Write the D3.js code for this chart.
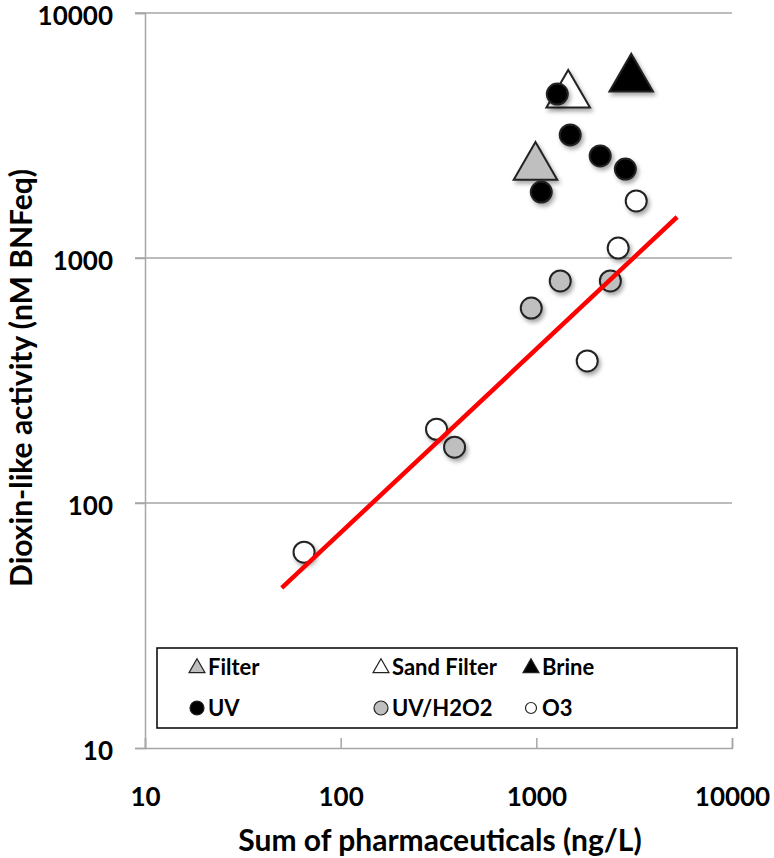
<!DOCTYPE html>
<html>
<head>
<meta charset="utf-8">
<script src="https://cdn.jsdelivr.net/npm/d3@7"></script>
<style>
  body { margin: 0; background: #fff; }
  text { font-family: Lato, "Open Sans", sans-serif; font-weight: bold; fill: #000; }
</style>
</head>
<body>
<svg width="774" height="858"></svg>
<script>
// values (log-log)
var filterX = [990], filterY = [2350];
var sandX = [1455], sandY = [4625];
var brineX = [3055], brineY = [5380];
var uvX = [1280, 1490, 2120, 2850, 1060];
var uvY = [4670, 3180, 2610, 2307, 1858];
var uvh2o2X = [2390, 1325, 942, 382];
var uvh2o2Y = [806, 806, 625, 169];
var o3X = [3240, 2620, 1820, 309, 65];
var o3Y = [1709, 1098, 380, 200, 63];
var trendX = [50, 5240];
var trendY = [45, 1470];
var tickValues = [10, 100, 1000, 10000];

var svg = d3.select("svg");

var x = d3.scaleLog().domain([10, 10000]).range([145, 732]);
var y = d3.scaleLog().domain([10, 10000]).range([748, 13]);

var defs = svg.append("defs");
var shadow = defs.append("filter").attr("id", "shadow")
    .attr("x", "-50%").attr("y", "-50%").attr("width", "200%").attr("height", "200%");
shadow.append("feDropShadow")
    .attr("dx", 2).attr("dy", 3).attr("stdDeviation", 2)
    .attr("flood-color", "#000").attr("flood-opacity", 0.35);

// gridlines
svg.append("g").selectAll("line")
    .data(tickValues.slice(1))
    .enter().append("line")
    .attr("x1", 135).attr("x2", x(10000))
    .attr("y1", function (d) { return y(d); })
    .attr("y2", function (d) { return y(d); })
    .attr("stroke", "#a6a6a6").attr("stroke-width", 1.5);

// y axis
var yAxis = svg.append("g")
    .attr("transform", "translate(" + x(10) + ",0)")
    .call(d3.axisLeft(y).tickValues(tickValues).tickFormat(d3.format("d")).tickSize(10).tickPadding(22));
yAxis.select(".domain").attr("stroke", "#a6a6a6").attr("stroke-width", 1.5);
yAxis.selectAll(".tick line").attr("stroke", "#a6a6a6").attr("stroke-width", 1.5);
yAxis.selectAll(".tick text").style("font-size", "26px").attr("dy", "0.45em");

// x axis
var xAxis = svg.append("g")
    .attr("transform", "translate(0," + y(10) + ")")
    .call(d3.axisBottom(x).tickValues(tickValues).tickFormat(d3.format("d")).tickSize(-10).tickPadding(49));
xAxis.select(".domain").attr("stroke", "#a6a6a6").attr("stroke-width", 1.5);
xAxis.selectAll(".tick line").attr("stroke", "#a6a6a6").attr("stroke-width", 1.5);
xAxis.selectAll(".tick text").style("font-size", "26px").attr("dy", "0.35em");

// axis titles
svg.append("text")
    .attr("x", 440).attr("y", 851)
    .attr("text-anchor", "middle")
    .style("font-size", "30px")
    .text("Sum of pharmaceuticals (ng/L)");

svg.append("text")
    .attr("transform", "translate(32,378) rotate(-90)")
    .attr("text-anchor", "middle")
    .style("font-size", "30px")
    .text("Dioxin-like activity (nM BNFeq)");

function zip(xs, ys) {
    return xs.map(function (v, i) { return [v, ys[i]]; });
}

var triangle = d3.symbol().type(d3.symbolTriangle).size(820);

function drawTriangles(xs, ys, fill) {
    svg.append("g").selectAll("path")
        .data(zip(xs, ys))
        .enter().append("path")
        .attr("d", triangle)
        .attr("transform", function (d) { return "translate(" + x(d[0]) + "," + y(d[1]) + ")"; })
        .attr("fill", fill)
        .attr("stroke", "#222").attr("stroke-width", 2)
        .attr("filter", "url(#shadow)");
}

function drawCircles(xs, ys, fill) {
    svg.append("g").selectAll("circle")
        .data(zip(xs, ys))
        .enter().append("circle")
        .attr("cx", function (d) { return x(d[0]); })
        .attr("cy", function (d) { return y(d[1]); })
        .attr("r", 10.5)
        .attr("fill", fill)
        .attr("stroke", "#222").attr("stroke-width", 2)
        .attr("filter", "url(#shadow)");
}

drawTriangles(filterX, filterY, "#bfbfbf");
drawTriangles(sandX, sandY, "#fff");
drawTriangles(brineX, brineY, "#000");
drawCircles(uvX, uvY, "#000");
drawCircles(uvh2o2X, uvh2o2Y, "#bfbfbf");
drawCircles(o3X, o3Y, "#fff");

// power trendline
svg.append("path")
    .datum(zip(trendX, trendY))
    .attr("d", d3.line().x(function (d) { return x(d[0]); }).y(function (d) { return y(d[1]); }))
    .attr("stroke", "#ff0000").attr("stroke-width", 4.5).attr("fill", "none");

// legend
var legend = svg.append("g");
legend.append("rect")
    .attr("x", 157).attr("y", 648).attr("width", 580).attr("height", 80)
    .attr("fill", "#fff").attr("stroke", "#000").attr("stroke-width", 1.5);

var legendItems = [
    { name: "Filter", shape: "tri", fill: "#bfbfbf", col: 0, row: 0 },
    { name: "Sand Filter", shape: "tri", fill: "#fff", col: 1, row: 0 },
    { name: "Brine", shape: "tri", fill: "#000", col: 2, row: 0 },
    { name: "UV", shape: "circle", fill: "#000", col: 0, row: 1 },
    { name: "UV/H2O2", shape: "circle", fill: "#bfbfbf", col: 1, row: 1 },
    { name: "O3", shape: "circle", fill: "#fff", col: 2, row: 1 }
];
var colX = [197, 381, 531];
var rowY = [667, 708];
var smallTri = d3.symbol().type(d3.symbolTriangle).size(110);

legendItems.forEach(function (d) {
    var g = legend.append("g")
        .attr("transform", "translate(" + colX[d.col] + "," + rowY[d.row] + ")");
    if (d.shape === "tri") {
        g.append("path").attr("d", smallTri).attr("transform", "translate(0,1)")
            .attr("fill", d.fill).attr("stroke", "#222").attr("stroke-width", 1.2);
    } else {
        g.append("circle").attr("r", d.fill === "#fff" ? 5.5 : 7)
            .attr("fill", d.fill).attr("stroke", "#222").attr("stroke-width", 1.2);
    }
    g.append("text").attr("x", 11).attr("dy", "0.35em")
        .style("font-size", "22px").text(d.name);
});
</script>
</body>
</html>
